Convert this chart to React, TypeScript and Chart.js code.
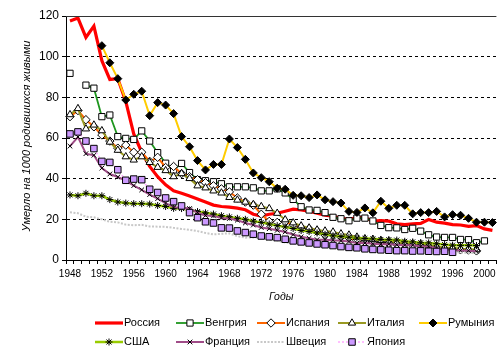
import React, { useEffect, useRef } from 'react';
import { Chart, registerables } from 'chart.js';
import { drawPoint } from 'chart.js/helpers';

Chart.register(...registerables);

const YEARS = [
  '1948', '1949', '1950', '1951', '1952', '1953', '1954', '1955', '1956', '1957',
  '1958', '1959', '1960', '1961', '1962', '1963', '1964', '1965', '1966', '1967',
  '1968', '1969', '1970', '1971', '1972', '1973', '1974', '1975', '1976', '1977',
  '1978', '1979', '1980', '1981', '1982', '1983', '1984', '1985', '1986', '1987',
  '1988', '1989', '1990', '1991', '1992', '1993', '1994', '1995', '1996', '1997',
  '1998', '1999', '2000', '2001',
];

const X_TICK_LABELS = ['1948', '1952', '1956', '1960', '1964', '1968', '1972', '1976', '1980', '1984', '1988', '1992', '1996', '2000'];

const RUSSIA = [
  117.5, 119, 109.5, 115, 98, 88.8, 89.2, 78, 62, 53,
  46, 41, 37, 34, 32.8, 31.5, 30, 28.5, 27, 26.3,
  26, 25.5, 24.7, 22.5, 21.6, 22.5, 23, 24, 25, 24.6,
  24, 23, 22, 21.5, 20.5, 20, 20.8, 20.8, 19.1, 19.4,
  19.1, 17.8, 17.4, 17.8, 18, 19.9, 18.6, 18.1, 17.4, 17.2,
  16.5, 16.9, 15.3, 14.6,
];

const HUNGARY = [
  91.8, null, 86, 84.5, 70.5, 71.3, 60.7, 59.8, 59.3, 63.5,
  58.5, 52.8, 47.6, 44.3, 47.5, 43, 39.5, 39, 38.5, 37.5,
  36, 36, 36, 35.5, 34, 34, 35, 33, 29.8, 26.2,
  24.6, 24.4, 23.3, 21, 20.3, 19.3, 20.6, 20.6, 19.2, 17,
  15.9, 15.8, 15, 15.6, 14.2, 12.4, 11.3, 11.1, 11.1, 10.1,
  10, 8.5, 9.4, null,
];

const SPAIN = [
  70.5, 73.5, 69, 65.5, 61.5, 58.5, 55, 56.5, 53, 53,
  48.5, 50.5, 45.5, 46, 42.5, 41, 39.5, 38, 36.5, 35,
  33.5, 30.5, 28.5, 27, 22.5, 19, 18.5, 18.9, 17.1, 16,
  15.3, 14.3, 12.3, 12.5, 11.3, 10.9, 9.6, 8.9, 9.1, 8.8,
  8.1, 7.8, 7.6, 7.2, 7.1, 6.7, 6, 5.5, 5.5, 5,
  4.9, 4.5, null, null,
];

const ITALY = [
  71.5, 74.5, 64.5, 66.4, 63.6, 58, 54, 50.8, 49.2, 50.8,
  48, 45.6, 44, 41, 42.5, 40.1, 36.5, 35.5, 34, 33,
  30.8, 29.5, 28.5, 27.3, 26.3, 25.3, 23, 19.8, 18.3, 16.8,
  15.8, 14.8, 14.3, 13.8, 12.9, 12.3, 11.3, 10.5, 10.2, 9.6,
  9.3, 8.5, 8.2, 8.1, 7.9, 7.3, 6.6, 6.2, 6, 5.5,
  5.4, 5.1, null, null,
];

const ROMANIA = [
  null, null, null, null, 105.4, 97, 89.2, 78.7, 81.5, 83,
  71, 77.4, 76.2, 72, 60.7, 55.7, 48.9, 44.3, 47, 47,
  59.5, 55.3, 49.5, 42.8, 40.5, 38.5, 35.3, 34.8, 31.8, 31.6,
  30.7, 32, 29.6, 28.7, 28, 23.9, 23.4, 25.6, 23.2, 28.9,
  25.4, 26.9, 26.9, 22.7, 23.3, 23.3, 23.9, 21.2, 22.3, 22,
  20.5, 18.6, 18.6, 18.4,
];

const USA = [
  32, 31.6, 32.8, 31.6, 31.6, 29.7, 28.5, 28, 27.7, 27.7,
  27.5, 26.8, 26.3, 25.4, 25.3, 24.6, 23.8, 23.2, 22.6, 21.8,
  21.2, 20.5, 20, 19.1, 18.5, 17.7, 16.9, 16.3, 15.5, 14.5,
  14, 13.3, 12.6, 11.9, 11.5, 11.2, 10.8, 10.6, 10.4, 10.1,
  10, 9.8, 9.2, 8.9, 8.5, 8.4, 8, 7.6, 7.3, 7.2,
  7.2, 7.1, null, null,
];

const FRANCE = [
  56, 60.5, 52.3, 51.5, 45.2, 42.3, 40.8, 39, 36.6, 34.5,
  32.2, 30.2, 28, 26, 25.7, 25.3, 23.3, 21.9, 21.7, 20.7,
  20.4, 19.6, 18.2, 17.2, 16, 15.4, 14.6, 13.8, 12.5, 11.4,
  10.7, 10, 10, 9.7, 9.5, 9.1, 8.3, 8.3, 8, 7.8,
  7.8, 7.5, 7.3, 7.3, 6.8, 6.5, 5.9, 4.9, 4.8, 4.7,
  4.6, 4.3, null, null,
];

const SWEDEN = [
  23.5, 23, 21.3, 21, 20, 18.8, 18.5, 17.4, 17.1, 17.3,
  16.5, 16.4, 16.3, 15.8, 15.3, 14.8, 14.2, 13.3, 12.6, 12.9,
  13.1, 11.7, 11, 11.1, 10.8, 9.9, 9.6, 8.6, 8.3, 8,
  7.8, 7.5, 6.9, 6.9, 6.8, 7, 6.4, 6.8, 5.9, 6.1,
  5.8, 5.8, 6, 6.1, 5.3, 4.8, 4.4, 4.1, 4, 3.6,
  3.5, 3.4, null, null,
];

const JAPAN = [
  62, 63, 58.5, 54.8, 48.5, 48, 44.4, 39.2, 39.8, 39.5,
  34.8, 33.2, 30.5, 28.7, 26.6, 23.3, 20.8, 18.8, 18.2, 15.8,
  15.7, 14.3, 13.5, 12.7, 11.8, 11.4, 11, 10.2, 9.4, 8.9,
  8.4, 7.9, 7.5, 7.1, 6.6, 6.2, 6, 5.5, 5.2, 5,
  4.8, 4.6, 4.6, 4.4, 4.5, 4.3, 4.2, 4.3, 3.8, null,
  null, null, null, null,
];

const Y_TITLE = 'Умерло на 1000 родившихся живыми';
const X_TITLE = 'Годы';
const FONT = "'Liberation Sans', Arial, sans-serif";

type Style = {
  label: string;
  data: (number | null)[];
  color: string;
  width: number;
  dash?: number[];
  pointStyle: any;
  radius: number;
  pointFill: string;
  pointBorder: string;
  pointBorderWidth: number;
};

const SERIES: Style[] = [
  { label: 'Россия', data: RUSSIA, color: '#FF0000', width: 3.2, pointStyle: false, radius: 0, pointFill: '#FF0000', pointBorder: '#FF0000', pointBorderWidth: 0 },
  { label: 'Венгрия', data: HUNGARY, color: '#1E961E', width: 1.8, pointStyle: 'rect', radius: 4.4, pointFill: '#FFFFFF', pointBorder: '#000000', pointBorderWidth: 1 },
  { label: 'Испания', data: SPAIN, color: '#FF6600', width: 2, pointStyle: 'rectRot', radius: 4.2, pointFill: '#FFFFFF', pointBorder: '#000000', pointBorderWidth: 1 },
  { label: 'Италия', data: ITALY, color: '#999922', width: 2, pointStyle: 'triangle', radius: 4.2, pointFill: '#FFFFFF', pointBorder: '#000000', pointBorderWidth: 1 },
  { label: 'Румыния', data: ROMANIA, color: '#FFCC00', width: 2, pointStyle: 'rectRot', radius: 4, pointFill: '#000000', pointBorder: '#000000', pointBorderWidth: 1 },
  { label: 'США', data: USA, color: '#99CC00', width: 2.5, pointStyle: 'star', radius: 3.5, pointFill: '#000000', pointBorder: '#000000', pointBorderWidth: 1 },
  { label: 'Франция', data: FRANCE, color: '#A04C88', width: 2, pointStyle: 'crossRot', radius: 3.3, pointFill: '#000000', pointBorder: '#000000', pointBorderWidth: 1 },
  { label: 'Швеция', data: SWEDEN, color: '#C8C8C8', width: 2, dash: [2, 1.5], pointStyle: false, radius: 0, pointFill: '#C8C8C8', pointBorder: '#C8C8C8', pointBorderWidth: 0 },
  { label: 'Япония', data: JAPAN, color: '#FFAAFF', width: 1.5, dash: [2, 2], pointStyle: 'rect', radius: 4.6, pointFill: '#CC99FF', pointBorder: '#000000', pointBorderWidth: 1 },
];

const LEGEND_ROWS = [
  ['Россия', 'Венгрия', 'Испания', 'Италия', 'Румыния'],
  ['США', 'Франция', 'Швеция', 'Япония'],
];

const decorPlugin = {
  id: 'decor',
  afterDraw(chart: any) {
    const { ctx, chartArea } = chart;
    const { left, right, top, bottom } = chartArea;
    ctx.save();
    ctx.strokeStyle = '#333333';
    ctx.lineWidth = 1;
    ctx.setLineDash([]);
    ctx.beginPath();
    ctx.moveTo(left, top + 0.5);
    ctx.lineTo(right, top + 0.5);
    ctx.stroke();

    ctx.fillStyle = '#000';
    ctx.font = `italic 10.5px ${FONT}`;
    ctx.textAlign = 'center';
    ctx.textBaseline = 'middle';
    ctx.fillText(X_TITLE, (left + right) / 2, bottom + 37);

    ctx.save();
    ctx.font = `italic 11px ${FONT}`;
    ctx.translate(27, (top + bottom) / 2 - 2);
    ctx.rotate(-Math.PI / 2);
    ctx.fillText(Y_TITLE, 0, 0);
    ctx.restore();

    const colW = 81;
    const lineLen = 28;
    const rowY = [bottom + 63, bottom + 82];
    ctx.font = `11px ${FONT}`;
    ctx.textAlign = 'left';
    LEGEND_ROWS.forEach((row, r) => {
      row.forEach((name, c) => {
        const s = SERIES.find((q) => q.label === name)!;
        const x0 = left + 29 + c * colW;
        const y = rowY[r];
        ctx.save();
        ctx.strokeStyle = s.color;
        ctx.lineWidth = s.width;
        ctx.setLineDash(s.dash || []);
        ctx.beginPath();
        ctx.moveTo(x0, y);
        ctx.lineTo(x0 + lineLen, y);
        ctx.stroke();
        ctx.restore();
        if (s.pointStyle) {
          ctx.save();
          ctx.setLineDash([]);
          ctx.fillStyle = s.pointFill;
          ctx.strokeStyle = s.pointBorder;
          ctx.lineWidth = s.pointBorderWidth;
          drawPoint(ctx, { pointStyle: s.pointStyle, rotation: 0, radius: s.radius, borderWidth: s.pointBorderWidth }, x0 + lineLen / 2, y);
          ctx.restore();
        }
        ctx.fillStyle = '#000';
        ctx.textBaseline = 'middle';
        ctx.fillText(name, x0 + lineLen + 1, y);
      });
    });
    ctx.restore();
  },
};

export default function App() {
  const ref = useRef<HTMLCanvasElement>(null);
  useEffect(() => {
    const canvas = ref.current;
    if (!canvas) return;
    const datasets = SERIES.map((s, i) => ({
      label: s.label,
      data: s.data,
      borderColor: s.color,
      backgroundColor: s.color,
      borderWidth: s.width,
      borderDash: s.dash || [],
      tension: 0,
      spanGaps: false,
      pointStyle: s.pointStyle,
      pointRadius: s.radius,
      pointHoverRadius: s.radius,
      pointBackgroundColor: s.pointFill,
      pointBorderColor: s.pointBorder,
      pointBorderWidth: s.pointBorderWidth,
      order: SERIES.length - i,
      fill: false,
    }));
    const chart = new Chart(canvas, {
      type: 'line',
      data: { labels: YEARS, datasets },
      options: {
        responsive: false,
        animation: false,
        events: [],
        layout: { padding: { left: 0, right: 4, top: 16, bottom: 0 } },
        plugins: {
          legend: { display: false },
          tooltip: { enabled: false },
          title: { display: false },
        },
        scales: {
          x: {
            type: 'category',
            offset: true,
            grid: {
              offset: true,
              drawOnChartArea: false,
              drawTicks: true,
              tickLength: 4,
              color: '#000',
              tickColor: '#000',
            },
            border: { display: true, color: '#000', width: 1 },
            ticks: {
              autoSkip: false,
              maxRotation: 0,
              minRotation: 0,
              padding: 4,
              color: '#000',
              font: { family: FONT, size: 10 },
              callback: (_v: any, i: number) => (X_TICK_LABELS.includes(YEARS[i]) ? YEARS[i] : ''),
            },
            afterFit: (s: any) => {
              s.height = 96;
            },
          },
          y: {
            type: 'linear',
            min: 0,
            max: 120,
            ticks: {
              stepSize: 20,
              padding: 3,
              color: '#000',
              font: { family: FONT, size: 12 },
            },
            grid: {
              color: (c: any) => (c.tick && c.tick.value === 120 ? 'rgba(0,0,0,0)' : '#000'),
              tickColor: '#000',
              tickLength: 4,
              tickBorderDash: [],
              lineWidth: 1,
            },
            border: { display: true, color: '#000', width: 1, dash: [3, 3] },
            afterFit: (s: any) => {
              s.width = 66;
            },
          },
        },
      },
      plugins: [decorPlugin],
    } as any);
    return () => chart.destroy();
  }, []);
  return (
    <div style={{ position: 'absolute', left: 0, top: 0, width: 502, height: 356, background: '#fff' }}>
      <canvas ref={ref} width={502} height={356} style={{ display: 'block' }} />
    </div>
  );
}
